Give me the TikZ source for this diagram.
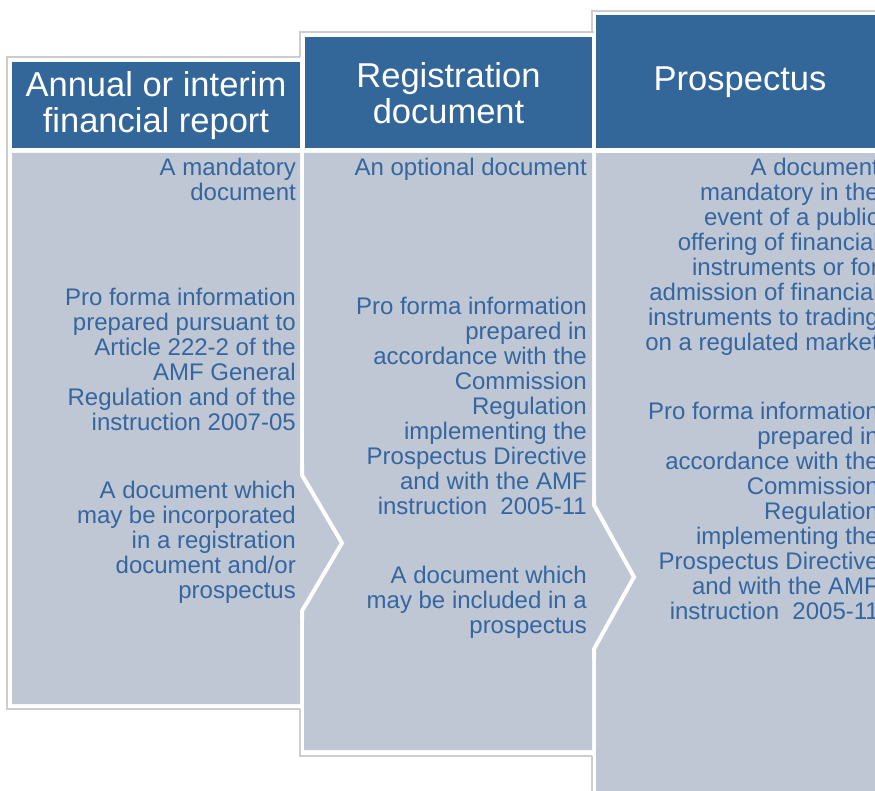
\documentclass[tikz,border=0pt]{standalone}
\usepackage{fontspec}
\setmainfont{Liberation Sans}
\definecolor{hdr}{RGB}{51,102,153}
\definecolor{bodyc}{RGB}{191,198,212}
\definecolor{txt}{RGB}{52,102,160}
\definecolor{frm}{RGB}{205,205,205}
\begin{document}
\begin{tikzpicture}[x=1pt,y=-1pt,
  frameline/.style={draw=frm,line width=1.2pt},
  headbox/.style={fill=hdr},
  bodybox/.style={fill=bodyc},
  notch/.style={draw=white,line width=4pt,line join=miter},
  title/.style={text=white,font=\fontsize{34.5}{36}\selectfont,align=center,inner sep=0pt},
  info/.style={text=txt,font=\fontsize{24}{25}\selectfont,align=right,inner sep=0pt,anchor=north east}]
\useasboundingbox (0,0) rectangle (875,791);
\clip (0,0) rectangle (875,791);
% frames
\fill[white] (592,11) rectangle (900,800);
\draw[frameline] (900,11) -- (592,11) -- (592,800);
\fill[white] (300,32) rectangle (594,756);
\draw[frameline] (594,32) -- (300,32) -- (300,756) -- (592,756);
\fill[white] (7,57) rectangle (302,709);
\draw[frameline] (300,57) -- (7,57) -- (7,709) -- (300,709);
% headers
\fill[headbox] (12,62) rectangle (300,148);
\fill[headbox] (305,37) rectangle (592,148);
\fill[headbox] (596,15) rectangle (900,148);
% bodies
\fill[bodybox] (596,153) rectangle (900,800);
\fill[bodybox] (304,153) -- (592,153) -- (592,505) -- (632,577) -- (592,649) -- (592,750) -- (304,750) -- cycle;
\draw[notch] (594,495) -- (594,505) -- (634,577) -- (594,649) -- (594,659);
\fill[bodybox] (12,153) -- (300,153) -- (300,475) -- (340,543) -- (300,611) -- (300,704) -- (12,704) -- cycle;
\draw[notch] (302,465) -- (302,475) -- (342,543) -- (302,611) -- (302,621);
% titles
\node[title] (t1) at (156,106) {Annual or interim\\financial report};
\node[title] (t2) at (448.5,93) {Registration\\document};
\node[title] (t3) at (740,82) {Prospectus};
% column 1
\node[info] (a1) at (296,157.5) {\strut A mandatory\\document};
\node[info] (a2) at (296,287.5) {\strut Pro forma information\\prepared pursuant to\\Article 222-2 of the\\AMF General\\Regulation and of the\\instruction 2007-05};
\node[info] (a3) at (296,480.5) {\strut A document which\\may be incorporated\\in a registration\\document and/or\\prospectus};
% column 2
\node[info] (b1) at (587,157.5) {\strut An optional document};
\node[info] (b2) at (587,296.5) {\strut Pro forma information\\prepared in\\accordance with the\\Commission\\Regulation\\implementing the\\Prospectus Directive\\and with the AMF\\instruction\ \ 2005-11};
\node[info] (b3) at (587,565.5) {\strut A document which\\may be included in a\\prospectus};
% column 3
\node[info] (c1) at (879,157.5) {\strut A document\\mandatory in the\\event of a public\\offering of financial\\instruments or for\\admission of financial\\instruments to trading\\on a regulated market};
\node[info] (c2) at (879,401.5) {\strut Pro forma information\\prepared in\\accordance with the\\Commission\\Regulation\\implementing the\\Prospectus Directive\\and with the AMF\\instruction\ \ 2005-11};
\end{tikzpicture}
\end{document}
